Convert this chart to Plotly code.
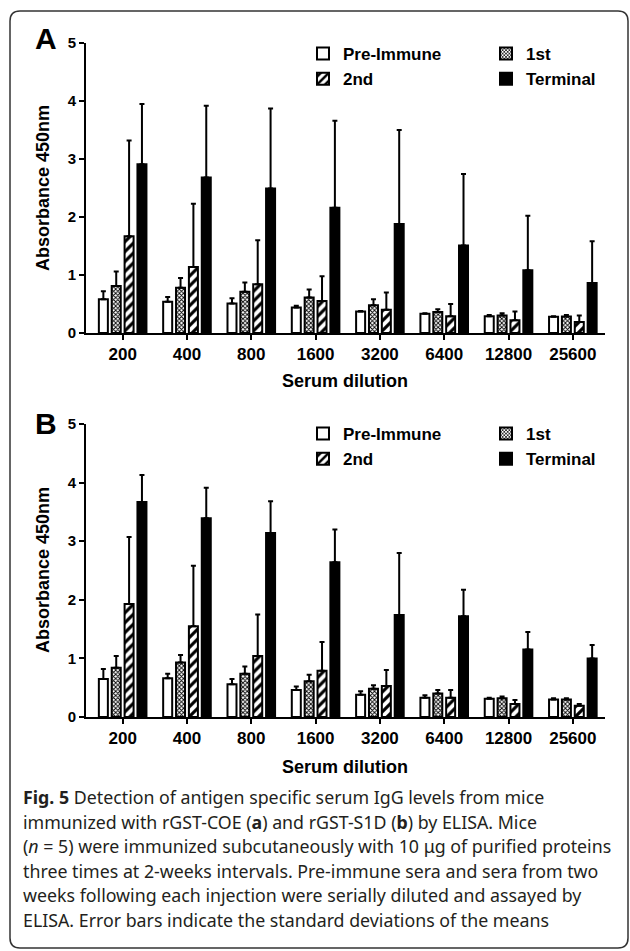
import plotly.graph_objects as go

W, H = 630, 951

dilutions = ["200", "400", "800", "1600", "3200", "6400", "12800", "25600"]
series_names = ["Pre-Immune", "1st", "2nd", "Terminal"]

# Panel A (rGST-COE): means and standard deviations
a_pre = [0.58, 0.54, 0.51, 0.44, 0.37, 0.33, 0.29, 0.28]
a_pre_sd = [0.14, 0.08, 0.09, 0.03, 0.01, 0.01, 0.02, 0.01]
a_1st = [0.81, 0.78, 0.71, 0.61, 0.48, 0.36, 0.30, 0.285]
a_1st_sd = [0.25, 0.17, 0.16, 0.14, 0.10, 0.05, 0.04, 0.025]
a_2nd = [1.67, 1.14, 0.84, 0.55, 0.40, 0.29, 0.22, 0.19]
a_2nd_sd = [1.65, 1.09, 0.76, 0.43, 0.30, 0.21, 0.15, 0.11]
a_term = [2.91, 2.68, 2.49, 2.16, 1.88, 1.51, 1.08, 0.86]
a_term_sd = [1.04, 1.24, 1.38, 1.50, 1.62, 1.23, 0.94, 0.72]

# Panel B (rGST-S1D)
b_pre = [0.65, 0.66, 0.56, 0.46, 0.38, 0.33, 0.31, 0.30]
b_pre_sd = [0.17, 0.08, 0.09, 0.06, 0.06, 0.04, 0.02, 0.02]
b_1st = [0.84, 0.93, 0.74, 0.61, 0.48, 0.40, 0.32, 0.30]
b_1st_sd = [0.20, 0.13, 0.12, 0.11, 0.06, 0.06, 0.03, 0.02]
b_2nd = [1.93, 1.55, 1.04, 0.79, 0.53, 0.33, 0.22, 0.19]
b_2nd_sd = [1.14, 1.03, 0.71, 0.49, 0.27, 0.13, 0.07, 0.03]
b_term = [3.67, 3.39, 3.14, 2.64, 1.74, 1.72, 1.15, 1.00]
b_term_sd = [0.46, 0.52, 0.54, 0.56, 1.06, 0.45, 0.30, 0.23]

y_ticks = [0, 1, 2, 3, 4, 5]

styles = {
    "Pre-Immune": dict(color="white", pattern=None),
    "1st": dict(color="white", pattern=dict(shape="x", size=3, solidity=0.5, fgcolor="black", bgcolor="white")),
    "2nd": dict(color="white", pattern=dict(shape="/", size=7, solidity=0.45, fgcolor="black", bgcolor="white")),
    "Terminal": dict(color="black", pattern=None),
}

FONT = "Liberation Sans"
CAP_FONT = "Noto Sans"


def px_x(p):
    return p / W


def px_y(p):
    return 1 - p / H


fig = go.Figure()

panels = [
    ("A", [a_pre, a_1st, a_2nd, a_term], [a_pre_sd, a_1st_sd, a_2nd_sd, a_term_sd], "x", "y", ("legend", "legend2")),
    ("B", [b_pre, b_1st, b_2nd, b_term], [b_pre_sd, b_1st_sd, b_2nd_sd, b_term_sd], "x2", "y2", ("legend3", "legend4")),
]

for label, means, sds, xa, ya, legs in panels:
    for i, name in enumerate(series_names):
        st = styles[name]
        marker = dict(color=st["color"], line=dict(color="black", width=2))
        if st["pattern"]:
            marker["pattern"] = st["pattern"]
        fig.add_trace(go.Bar(
            x=dilutions, y=means[i], name=name,
            marker=marker,
            error_y=dict(type="data", symmetric=False, array=sds[i],
                         arrayminus=[0] * len(sds[i]), color="black",
                         thickness=2, width=2.5),
            xaxis=xa, yaxis=ya,
            legend=legs[0] if i in (0, 2) else legs[1],
        ))

axis_common = dict(showline=True, linewidth=2, linecolor="black", ticks="outside",
                   ticklen=5, tickwidth=2, tickcolor="black", showgrid=False,
                   zeroline=False, automargin=False)

xdom = [px_x(86), px_x(605)]
fig.update_layout(
    width=W, height=H, template="none",
    margin=dict(l=0, r=0, t=0, b=0, pad=0, autoexpand=False),
    paper_bgcolor="white", plot_bgcolor="white",
    barmode="group", bargap=0.2, bargroupgap=0.3,
    font=dict(family=FONT, color="black"),
    xaxis=dict(domain=xdom, anchor="y", type="category", range=[-0.57, 7.5],
               tickfont=dict(size=17, weight="bold", family=FONT), **axis_common),
    yaxis=dict(domain=[px_y(333), px_y(43)], anchor="x", range=[0, 5],
               tickvals=y_ticks, tickfont=dict(size=15, weight="bold", family=FONT), **axis_common),
    xaxis2=dict(domain=xdom, anchor="y2", type="category", range=[-0.57, 7.5],
                tickfont=dict(size=17, weight="bold", family=FONT), **axis_common),
    yaxis2=dict(domain=[px_y(717), px_y(424)], anchor="x2", range=[0, 5],
                tickvals=y_ticks, tickfont=dict(size=15, weight="bold", family=FONT), **axis_common),
)

leg_common = dict(bgcolor="rgba(0,0,0,0)", borderwidth=0, orientation="v",
                  xanchor="left", yanchor="top", tracegroupgap=0,
                  font=dict(size=17, weight="bold", family=FONT, color="black"))
fig.update_layout(
    legend=dict(x=px_x(303), y=px_y(36), **leg_common),
    legend2=dict(x=px_x(486), y=px_y(36), **leg_common),
    legend3=dict(x=px_x(303), y=px_y(416), **leg_common),
    legend4=dict(x=px_x(486), y=px_y(416), **leg_common),
)

annotations = []
for label, yl, ytitle_c, yx in [("A", 39, 188, 381), ("B", 423, 570, 767)]:
    annotations.append(dict(text="<b>%s</b>" % label, x=px_x(46), y=px_y(yl), xref="paper", yref="paper",
                            showarrow=False, font=dict(size=30, family=FONT), xanchor="center", yanchor="middle"))
    annotations.append(dict(text="<b>Absorbance 450nm</b>", x=px_x(43), y=px_y(ytitle_c), xref="paper", yref="paper",
                            showarrow=False, textangle=-90, font=dict(size=18, family=FONT),
                            xanchor="center", yanchor="middle"))
    annotations.append(dict(text="<b>Serum dilution</b>", x=px_x(345), y=px_y(yx), xref="paper", yref="paper",
                            showarrow=False, font=dict(size=18, family=FONT), xanchor="center", yanchor="middle"))

caption_lines = [
    "<b>Fig. 5</b> Detection of antigen specific serum IgG levels from mice",
    "immunized with rGST-COE (<b>a</b>) and rGST-S1D (<b>b</b>) by ELISA. Mice",
    "(<i>n</i> = 5) were immunized subcutaneously with 10 μg of purified proteins",
    "three times at 2-weeks intervals. Pre-immune sera and sera from two",
    "weeks following each injection were serially diluted and assayed by",
    "ELISA. Error bars indicate the standard deviations of the means",
]
cap_y0, cap_dy = 797, 24.6
for k, line in enumerate(caption_lines):
    annotations.append(dict(text=line, x=px_x(21), y=px_y(cap_y0 + k * cap_dy), xref="paper", yref="paper",
                            showarrow=False, xanchor="left", yanchor="middle",
                            font=dict(size=17.8, family=CAP_FONT, color="#231f20")))
fig.update_layout(annotations=annotations)

# rounded frame
L, R, T, B, r = 10, 628, 11, 948, 10
pts = (f"M {px_x(L + r)},{px_y(T)} L {px_x(R - r)},{px_y(T)} Q {px_x(R)},{px_y(T)} {px_x(R)},{px_y(T + r)} "
       f"L {px_x(R)},{px_y(B - r)} Q {px_x(R)},{px_y(B)} {px_x(R - r)},{px_y(B)} "
       f"L {px_x(L + r)},{px_y(B)} Q {px_x(L)},{px_y(B)} {px_x(L)},{px_y(B - r)} "
       f"L {px_x(L)},{px_y(T + r)} Q {px_x(L)},{px_y(T)} {px_x(L + r)},{px_y(T)} Z")
fig.add_shape(type="path", path=pts, xref="paper", yref="paper",
              line=dict(color="#333333", width=1.5), fillcolor="rgba(0,0,0,0)")

fig.write_html("out.html")
